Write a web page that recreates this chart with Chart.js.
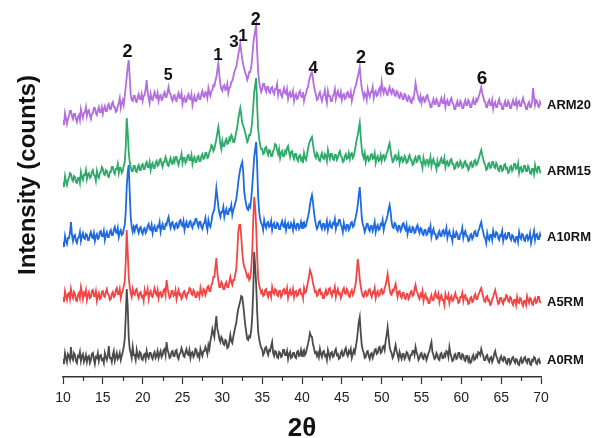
<!DOCTYPE html>
<html>
<head>
<meta charset="utf-8">
<script src="https://cdn.jsdelivr.net/npm/chart.js@4.4.1/dist/chart.umd.min.js"></script>
<style>
  html, body { margin: 0; padding: 0; background: #fff; }
  canvas { display: block; }
</style>
</head>
<body>
<canvas id="c" width="592" height="438"></canvas>
<script>
// ---------- DATA ----------
const twoTheta = [
10,10.125,10.25,10.375,10.5,10.625,10.75,10.875, 11,11.125,11.25,11.375,11.5,11.625,11.75,11.875,
12,12.125,12.25,12.375,12.5,12.625,12.75,12.875, 13,13.125,13.25,13.375,13.5,13.625,13.75,13.875,
14,14.125,14.25,14.375,14.5,14.625,14.75,14.875, 15,15.125,15.25,15.375,15.5,15.625,15.75,15.875,
16,16.125,16.25,16.375,16.5,16.625,16.75,16.875, 17,17.125,17.25,17.375,17.5,17.625,17.75,17.875,
18,18.125,18.25,18.375,18.5,18.625,18.75,18.875, 19,19.125,19.25,19.375,19.5,19.625,19.75,19.875,
20,20.125,20.25,20.375,20.5,20.625,20.75,20.875, 21,21.125,21.25,21.375,21.5,21.625,21.75,21.875,
22,22.125,22.25,22.375,22.5,22.625,22.75,22.875, 23,23.125,23.25,23.375,23.5,23.625,23.75,23.875,
24,24.125,24.25,24.375,24.5,24.625,24.75,24.875, 25,25.125,25.25,25.375,25.5,25.625,25.75,25.875,
26,26.125,26.25,26.375,26.5,26.625,26.75,26.875, 27,27.125,27.25,27.375,27.5,27.625,27.75,27.875,
28,28.125,28.25,28.375,28.5,28.625,28.75,28.875, 29,29.125,29.25,29.375,29.5,29.625,29.75,29.875,
30,30.125,30.25,30.375,30.5,30.625,30.75,30.875, 31,31.125,31.25,31.375,31.5,31.625,31.75,31.875,
32,32.125,32.25,32.375,32.5,32.625,32.75,32.875, 33,33.125,33.25,33.375,33.5,33.625,33.75,33.875,
34,34.125,34.25,34.375,34.5,34.625,34.75,34.875, 35,35.125,35.25,35.375,35.5,35.625,35.75,35.875,
36,36.125,36.25,36.375,36.5,36.625,36.75,36.875, 37,37.125,37.25,37.375,37.5,37.625,37.75,37.875,
38,38.125,38.25,38.375,38.5,38.625,38.75,38.875, 39,39.125,39.25,39.375,39.5,39.625,39.75,39.875,
40,40.125,40.25,40.375,40.5,40.625,40.75,40.875, 41,41.125,41.25,41.375,41.5,41.625,41.75,41.875,
42,42.125,42.25,42.375,42.5,42.625,42.75,42.875, 43,43.125,43.25,43.375,43.5,43.625,43.75,43.875,
44,44.125,44.25,44.375,44.5,44.625,44.75,44.875, 45,45.125,45.25,45.375,45.5,45.625,45.75,45.875,
46,46.125,46.25,46.375,46.5,46.625,46.75,46.875, 47,47.125,47.25,47.375,47.5,47.625,47.75,47.875,
48,48.125,48.25,48.375,48.5,48.625,48.75,48.875, 49,49.125,49.25,49.375,49.5,49.625,49.75,49.875,
50,50.125,50.25,50.375,50.5,50.625,50.75,50.875, 51,51.125,51.25,51.375,51.5,51.625,51.75,51.875,
52,52.125,52.25,52.375,52.5,52.625,52.75,52.875, 53,53.125,53.25,53.375,53.5,53.625,53.75,53.875,
54,54.125,54.25,54.375,54.5,54.625,54.75,54.875, 55,55.125,55.25,55.375,55.5,55.625,55.75,55.875,
56,56.125,56.25,56.375,56.5,56.625,56.75,56.875, 57,57.125,57.25,57.375,57.5,57.625,57.75,57.875,
58,58.125,58.25,58.375,58.5,58.625,58.75,58.875, 59,59.125,59.25,59.375,59.5,59.625,59.75,59.875,
60,60.125,60.25,60.375,60.5,60.625,60.75,60.875, 61,61.125,61.25,61.375,61.5,61.625,61.75,61.875,
62,62.125,62.25,62.375,62.5,62.625,62.75,62.875, 63,63.125,63.25,63.375,63.5,63.625,63.75,63.875,
64,64.125,64.25,64.375,64.5,64.625,64.75,64.875, 65,65.125,65.25,65.375,65.5,65.625,65.75,65.875,
66,66.125,66.25,66.375,66.5,66.625,66.75,66.875, 67,67.125,67.25,67.375,67.5,67.625,67.75,67.875,
68,68.125,68.25,68.375,68.5,68.625,68.75,68.875, 69,69.125,69.25,69.375,69.5,69.625,69.75,69.875,
70];

const seriesNames = ['A0RM','A5RM','A10RM','ARM15','ARM20'];

const A0RM = [
18,13,24,19,15,23,21,17, 30,19,17,24,22,16,14,21, 20,25,16,21,23,15,18,22, 15,20,21,14,17,23,24,18,
13,20,19,24,16,21,22,17, 18,14,24,20,17,22,31,19, 19,15,22,26,16,20,24,18, 20,24,17,21,25,30,38,60,
88,70,40,28,24,19,30,22, 22,17,27,21,19,25,24,18, 17,22,23,18,26,21,19,24, 24,20,18,23,25,19,21,26,
19,23,26,20,22,27,28,22, 35,27,24,19,20,25,26,21, 21,26,27,20,18,23,24,29, 26,21,20,25,28,23,22,27,
19,24,25,20,22,28,27,21, 23,19,28,24,21,26,26,30, 27,23,32,28,36,41,48,44, 40,52,61,48,44,38,35,40,
38,33,32,37,36,29,30,35, 42,36,34,40,45,50,54,62, 68,72,76,81,80,72,62,52, 45,38,37,41,40,46,60,85,
125,110,92,65,45,38,33,29, 28,22,24,29,30,25,22,27, 26,31,35,24,21,26,25,20, 19,25,24,20,21,27,27,22,
22,26,18,23,25,19,20,24, 24,20,19,25,26,21,22,27, 21,25,27,22,24,29,33,38, 44,41,40,33,29,24,25,21,
24,20,28,23,20,25,26,21, 22,17,27,23,19,24,25,20, 21,26,28,22,23,18,19,24, 26,21,22,27,29,23,21,26,
24,28,19,23,27,24,30,36, 45,55,60,44,32,27,24,19, 20,25,26,21,18,23,24,19, 22,27,28,23,24,29,30,24,
25,30,31,27,36,42,50,40, 30,26,24,19,21,27,32,26, 22,18,25,21,18,23,23,18, 20,25,24,19,17,22,22,26,
26,22,30,25,22,17,19,23, 24,19,18,23,22,17,20,24, 26,31,35,25,22,18,19,24, 22,18,17,23,24,19,19,23,
21,26,25,20,30,24,20,16, 17,22,23,18,19,24,24,19, 18,23,22,17,16,21,21,16, 19,14,15,20,22,17,18,22,
20,25,24,22,28,24,21,17, 17,21,22,17,15,19,20,15, 18,23,26,21,19,15,14,19, 21,17,16,20,19,14,13,18,
18,13,15,19,20,16,14,18, 17,13,12,17,19,14,15,19, 20,16,14,18,18,13,12,17, 16,20,19,14,13,17,18,14,
15];

const A5RM = [
80,75,86,81,77,83,84,78, 88,82,79,85,83,77,76,82, 84,79,90,85,78,84,82,87, 77,82,85,79,80,86,87,81,
81,86,76,81,84,78,79,85, 86,81,80,85,88,83,82,77, 78,83,85,80,81,87,89,83, 83,88,79,84,86,91,95,115,
147,125,100,90,84,80,88,83, 82,87,88,82,79,84,85,80, 81,76,87,82,83,88,78,84, 86,81,80,85,89,84,82,87,
79,84,85,80,81,87,88,82, 97,89,84,79,80,86,86,81, 82,87,78,83,87,82,83,78, 80,85,86,81,79,84,84,89,
88,83,82,87,85,80,80,85, 84,80,89,84,82,88,87,82, 85,90,91,86,86,92,94,100, 100,110,119,105,96,90,90,95,
93,88,88,93,95,90,90,95, 100,95,92,97,97,103,108,125, 145,152,152,140,125,115,110,108, 104,100,102,97,99,108,125,155,
180,170,150,120,98,92,88,84, 86,81,82,87,88,83,80,85, 85,80,90,85,83,88,87,82, 81,86,86,80,82,87,88,83,
84,89,79,84,87,82,83,88, 80,85,86,81,82,87,88,83, 83,79,89,84,85,90,95,100, 107,104,100,94,90,85,86,81,
82,87,88,83,84,79,79,84, 87,82,83,88,89,84,81,86, 85,90,80,85,88,83,84,79, 82,87,89,84,83,88,86,81,
80,85,87,82,84,89,94,105, 118,110,98,90,85,81,80,85, 86,81,82,87,88,83,80,85, 84,89,79,84,86,81,82,87,
88,83,84,89,92,97,103,95, 88,83,82,87,86,90,93,86, 80,85,86,81,79,84,84,79, 78,83,83,78,80,85,86,81,
82,88,92,86,84,80,78,83, 81,86,76,81,83,78,79,74, 74,79,82,77,77,82,85,80, 79,83,75,80,82,77,77,72,
83,79,78,82,74,79,81,76, 77,81,84,79,79,74,75,80, 80,84,76,81,82,77,78,73, 74,79,80,75,76,81,83,78,
78,82,84,87,89,84,80,76, 75,80,81,76,77,72,73,78, 80,84,87,82,78,73,74,79, 79,75,73,78,77,82,81,76,
75,80,79,74,72,77,77,72, 80,75,74,79,78,73,71,76, 76,72,81,77,74,79,78,73, 72,77,79,74,75,80,80,75,
74];

const A10RM = [
135,130,141,136,133,139,139,144, 155,142,136,141,142,136,134,139, 140,145,136,141,144,139,138,143, 142,137,137,142,145,140,139,144,
136,141,143,138,139,145,146,141, 141,146,137,142,145,140,140,145, 147,142,142,147,150,145,144,149, 140,145,147,142,143,148,152,165,
190,205,212,185,160,150,145,150, 146,151,152,147,144,149,150,145, 143,148,149,144,146,151,153,148, 147,152,144,149,151,146,146,151,
150,155,145,150,153,148,148,153, 152,157,160,153,149,154,155,150, 148,153,154,149,150,156,157,152, 151,156,147,152,155,150,150,155,
156,151,149,154,153,158,158,153, 150,155,155,150,148,153,154,159, 152,147,157,152,150,155,162,165, 168,178,189,180,170,164,160,165,
165,170,160,165,168,163,163,168, 167,172,162,167,170,174,178,185, 195,202,208,212,215,205,185,178, 172,168,167,172,170,178,190,205,
220,228,235,210,180,165,158,154, 152,147,157,152,149,154,155,150, 151,156,147,152,154,149,149,154, 153,148,148,153,156,151,150,155,
147,152,154,149,149,154,152,147, 155,150,148,153,153,148,150,155, 149,154,155,150,151,156,160,165, 172,178,182,175,165,158,152,148,
150,155,156,151,148,153,153,148, 151,156,147,152,155,150,149,154, 153,158,148,153,152,157,157,152, 150,145,154,149,147,152,152,147,
149,154,155,150,151,156,160,165, 172,182,190,175,160,153,150,145, 148,153,153,148,146,151,151,146, 150,155,145,150,152,147,148,153,
152,157,147,152,155,158,162,168, 172,165,155,150,149,154,153,148, 146,151,151,146,148,153,154,149, 147,152,143,148,150,145,145,150,
149,144,145,150,152,147,144,149, 148,143,142,147,147,142,143,148, 146,151,140,145,148,143,143,138, 139,144,146,141,141,146,147,142,
144,149,139,144,146,141,141,136, 145,140,140,145,143,138,138,143, 144,149,139,144,146,141,141,136, 137,142,143,138,140,145,146,141,
141,146,148,152,155,149,145,140, 139,134,144,139,137,142,142,137, 146,141,140,145,144,139,137,142, 141,146,136,141,143,138,139,144,
144,139,137,142,141,136,135,140, 140,135,145,140,138,143,142,137, 136,141,142,137,139,144,134,139, 141,146,137,142,143,138,138,143,
140];

const ARM15 = [
195,190,201,196,192,197,199,204, 203,198,196,201,200,195,194,199, 199,194,205,200,197,202,202,207, 198,203,204,199,200,205,207,202,
201,196,206,201,199,204,205,210, 208,203,202,207,206,201,200,205, 205,210,210,205,203,208,208,213, 204,209,209,204,206,211,215,230,
259,245,225,215,210,206,206,211, 211,206,205,210,212,207,207,212, 213,208,208,213,215,210,210,215, 207,212,214,209,209,214,216,211,
212,217,218,213,210,215,215,220, 217,212,211,216,219,214,213,218, 215,220,220,215,212,217,218,223, 214,219,219,214,216,221,222,217,
217,222,213,218,220,215,215,220, 221,216,216,221,223,218,219,224, 224,219,220,225,227,232,231,226, 228,233,238,244,250,242,233,228,
236,231,231,236,238,233,234,239, 237,242,240,235,235,240,245,250, 258,264,269,262,254,251,248,244, 240,235,237,242,242,247,256,270,
285,292,299,270,248,238,232,228, 228,223,224,229,230,225,222,227, 226,221,221,226,228,233,232,227, 223,228,219,224,226,221,221,226,
224,229,231,225,220,225,226,221, 218,223,223,218,216,221,222,217, 219,214,224,219,217,222,228,233, 236,238,240,233,226,221,219,224,
222,217,216,221,224,219,218,223, 221,216,227,222,218,223,223,218, 217,222,222,217,219,224,226,221, 220,215,216,221,223,218,219,224,
218,223,224,219,221,226,232,238, 242,248,254,240,228,222,219,224, 215,220,221,216,217,222,223,218, 219,224,214,219,221,216,217,222,
216,221,222,217,219,224,226,231, 234,226,220,215,216,221,222,217, 218,223,214,219,220,215,216,221, 219,214,215,220,222,217,217,212,
213,218,220,215,216,221,221,216, 214,209,219,214,212,217,217,212, 215,220,211,216,218,213,213,208, 216,211,212,217,219,214,214,219,
210,215,216,211,212,217,218,213, 213,208,209,214,215,210,211,216, 214,209,210,215,216,211,212,207, 209,214,215,210,211,216,217,212,
213,217,220,224,227,222,218,214, 212,207,208,213,214,209,210,215, 215,210,209,214,212,207,206,211, 211,206,207,212,213,208,209,204,
205,210,211,206,208,213,213,208, 209,214,204,209,210,205,206,211, 211,206,206,211,209,204,203,208, 208,203,212,207,205,210,210,205,
204];

const ARM20 = [
257,252,264,259,253,258,261,266, 266,261,258,263,263,258,255,260, 262,257,268,263,259,264,265,270, 261,266,267,262,258,263,264,269,
269,264,262,267,270,265,265,270, 263,268,271,266,266,271,273,268, 268,273,275,270,270,265,266,271, 274,279,269,274,277,272,281,290,
300,310,317,300,282,277,276,281, 281,276,275,280,283,278,278,283, 276,281,282,288,297,285,279,274, 283,278,277,282,285,280,279,284,
276,281,282,277,278,283,285,280, 280,285,290,284,283,278,276,281, 282,277,276,281,284,279,279,284, 273,278,280,275,276,281,283,278,
278,283,272,277,281,276,276,281, 283,278,278,283,286,281,280,285, 284,279,289,284,281,286,287,292, 291,296,300,307,314,302,293,288,
286,291,292,287,288,293,284,289, 290,295,296,300,305,308,310,316, 322,328,334,325,318,312,308,304, 302,297,300,305,305,310,320,332,
340,346,352,325,305,295,290,285, 288,293,293,288,285,290,290,285, 284,289,290,285,283,288,288,293, 282,287,287,282,280,285,289,284,
283,288,278,283,285,280,281,286, 276,281,283,278,279,284,286,281, 280,285,276,281,283,288,290,296, 300,303,305,298,291,286,282,277,
278,283,285,280,276,281,282,287, 279,274,286,281,281,276,276,281, 283,288,278,283,286,281,280,285, 277,282,283,278,279,284,285,280,
280,285,276,281,284,289,291,296, 300,305,310,298,289,284,279,284, 282,277,288,283,280,285,285,290, 279,284,286,281,282,287,289,284,
295,288,284,289,288,283,282,287, 290,285,283,288,287,282,281,286, 285,280,279,284,283,278,278,283, 282,277,276,281,280,275,274,279,
278,285,294,288,283,278,276,281, 274,279,280,275,276,281,282,277, 275,270,270,275,278,273,273,278, 276,271,271,276,279,274,274,279,
270,275,277,272,272,277,279,274, 273,268,268,273,276,271,271,276, 274,269,269,274,277,272,272,277, 275,270,270,275,278,273,273,278,
276,279,282,286,290,284,280,276, 275,270,270,275,277,272,272,277, 268,273,275,270,270,275,278,273, 273,268,268,273,276,271,271,276,
274,269,269,274,277,272,272,277, 270,275,276,271,271,276,279,274, 273,268,268,273,275,270,270,275, 289,280,272,277,276,271,270,275,
272];

const xTickValues = [10,15,20,25,30,35,40,45,50,55,60,65,70];
const xMinorTicks = [12.5,17.5,22.5,27.5,32.5,37.5,42.5,47.5,52.5,57.5,62.5,67.5];

// peak assignments (label, 2θ position, intensity where the label sits)
const peakLabels = ['2','5','1','3','1','2','4','2','6','6'];
const peakX      = [18.1,23.2,29.45,31.45,32.6,34.2,41.4,47.4,51.0,62.6];
const peakY      = [325,301,322,335,341,357,309,319,307,298];

// ---------- STYLE ----------
const FONT = '"Liberation Sans", Arial, Helvetica, sans-serif';
const colors = ['#4b4b4b','#f24646','#1e6ae0','#2eaa6a','#b36ee0'];
const seriesData = [A0RM, A5RM, A10RM, ARM15, ARM20];

const decor = {
  id: 'decor',
  afterDraw(chart, args, opts) {
    const {ctx, scales: {x, y}, chartArea} = chart;
    ctx.save();
    // minor ticks
    ctx.strokeStyle = '#333';
    ctx.lineWidth = 1.2;
    xMinorTicks.forEach(v => {
      const px = Math.round(x.getPixelForValue(v)) + 0.5;
      ctx.beginPath();
      ctx.moveTo(px, chartArea.bottom);
      ctx.lineTo(px, chartArea.bottom + 4);
      ctx.stroke();
    });
    // peak labels
    ctx.fillStyle = '#111';
    ctx.textAlign = 'center';
    ctx.textBaseline = 'middle';
    peakLabels.forEach((t, i) => {
      ctx.font = 'bold ' + opts.peakSizes[i] + 'px ' + FONT;
      ctx.fillText(t, x.getPixelForValue(peakX[i]), y.getPixelForValue(peakY[i]));
    });
    // series names
    ctx.font = 'bold 13px ' + FONT;
    ctx.textAlign = 'left';
    seriesNames.forEach((n, i) => {
      ctx.fillText(n, chartArea.right + 6, y.getPixelForValue(opts.labelY[i]));
    });
    // y title
    ctx.translate(opts.yTitleX, opts.yTitleY);
    ctx.rotate(-Math.PI / 2);
    ctx.font = 'bold 24px ' + FONT;
    ctx.textAlign = 'center';
    ctx.fillText('Intensity (counts)', 0, 0);
    ctx.restore();
  }
};

new Chart(document.getElementById('c'), {
  type: 'line',
  data: {
    datasets: seriesNames.map((name, i) => ({
      label: name,
      data: twoTheta.map((t, k) => ({x: t, y: seriesData[i][k]})),
      borderColor: colors[i],
      borderWidth: 1.8,
      pointRadius: 0,
      tension: 0,
      fill: false
    }))
  },
  options: {
    responsive: false,
    animation: false,
    devicePixelRatio: 1,
    layout: { padding: { left: 63, right: 51, top: 7, bottom: 0 } },
    plugins: {
      legend: { display: false },
      tooltip: { enabled: false },
      decor: {
        peakSizes: [18,16,17,17,17,18,17,18,19,19],
        labelY: [17,75,140,206,272],
        yTitleX: 28,
        yTitleY: 175
      }
    },
    scales: {
      x: {
        type: 'linear',
        min: 10,
        max: 70,
        afterFit: s => { s.height = 61; },
        afterBuildTicks: s => { s.ticks = xTickValues.map(v => ({value: v})); },
        ticks: { color: '#222', padding: 6, font: { family: FONT, size: 14 }, maxRotation: 0, autoSkip: false },
        grid: { drawOnChartArea: false, drawTicks: true, tickLength: 7, color: '#333', tickWidth: 1.2 },
        border: { display: true, color: '#333', width: 1.5 },
        title: { display: true, text: '2θ', color: '#111', padding: 0, font: { family: FONT, size: 26, weight: 'bold', lineHeight: 0.7 } }
      },
      y: {
        display: false,
        min: 0,
        max: 370
      }
    }
  },
  plugins: [decor]
});
</script>
</body>
</html>
